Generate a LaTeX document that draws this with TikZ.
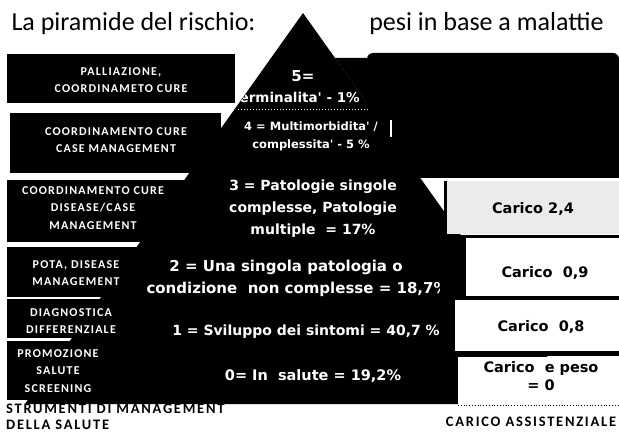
\documentclass[tikz,border=0pt]{standalone}
\usepackage{fontspec}
\setmainfont{Carlito}
\newfontfamily\pyrfont{DejaVu Sans}
\newfontfamily\boxfont[LetterSpace=10]{Carlito}
\newfontfamily\footfont[LetterSpace=12]{Carlito}
\usetikzlibrary{positioning}

\begin{document}
\begin{tikzpicture}[x=1pt,y=-1pt,
    lbl/.style={text=white,font=\boxfont\bfseries\fontsize{12}{17.5}\selectfont,align=center},
    lev/.style={text=white,font=\pyrfont\bfseries\fontsize{14}{22}\selectfont,align=center},
    levbig/.style={lev,font=\pyrfont\bfseries\fontsize{15}{22}\selectfont},
    levtop/.style={lev,font=\pyrfont\bfseries\fontsize{11.5}{18}\selectfont},
    car/.style={font=\pyrfont\bfseries\fontsize{14.5}{18}\selectfont,align=center},
    foot/.style={font=\footfont\bfseries\fontsize{14.5}{18}\selectfont}]
  \useasboundingbox (0,0) rectangle (619,433);

  % titolo
  \node[anchor=base west,font=\fontsize{26}{30}\selectfont] (tit1) at (8,31) {La piramide del rischio:};
  \node[anchor=base east,font=\fontsize{26}{30}\selectfont] (tit2) at (607,31) {pesi in base a malattie};

  % strumenti (riquadri a sinistra)
  \fill (7,54) rectangle (235,103);
  \fill (10,113) rectangle (221,173);
  \fill (7,180) rectangle (200,242);
  \fill (7,247) rectangle (160,297);
  \fill (7,299) rectangle (120,338);
  \fill (7,341) rectangle (100,400);

  % piramide
  \fill (303,13) -- (25,404) -- (581,404) -- cycle;
  \fill (367,178) [rounded corners=6pt] -- (367,53) -- (619,53) [sharp corners] -- (619,178) -- cycle;
  \fill (335,58) -- (370,58) -- (370,178) -- (420,178) -- cycle;
  \draw[white,dotted,line width=1pt] (238,110) -- (368,110);
  \draw[white,line width=2.5pt] (391,120) -- (391,137);

  % livelli
  \begin{scope}
    \clip (303,13) -- (25,404) -- (581,404) -- cycle;
    \node[lev,font=\pyrfont\bfseries\fontsize{15}{18}\selectfont] (l5) at (303,76) {5=};
    \node[lev,font=\pyrfont\bfseries\fontsize{13.5}{18}\selectfont] (l5t) at (296,97) {Terminalita' - 1\%};
  \end{scope}
  \node[levtop] (l4) at (311,136) {4 = Multimorbidita' /\\complessita' - 5 \%};
  \node[lev] (l3) at (313,209) {3 = Patologie singole\\complesse, Patologie\\multiple ~= 17\%};
  \node[levbig] (l2) at (286,267) {2 = Una singola patologia o};
  \node[levbig,anchor=west] (l2b) at (143,289) {condizione ~non complesse = 18,7\%};
  \node[lev] (l1) at (306,332) {1 = Sviluppo dei sintomi = 40,7 \%};
  \node[lev,font=\pyrfont\bfseries\fontsize{14.5}{22}\selectfont] (l0) at (313,376) {0= In ~salute = 19,2\%};

  % carico (riquadri a destra)
  \fill[black!8] (445,181) rectangle (619,234);
  \draw[line width=3pt] (445,181) -- (445,236) -- (619,236);
  \fill (440,236) rectangle (619,356);
  \fill[white] (466,238) rectangle (619,296);
  \fill[white] (455,300) rectangle (619,351);
  \fill[white] (458,357) rectangle (619,405);
  \draw[dotted,line width=0.8pt] (458,405) -- (619,405);

  \node[car] (c24) at (533,209) {Carico 2,4};
  \node[car] (c09) at (545,273) {Carico ~0,9};
  \node[car] (c08) at (541,327) {Carico ~0,8};
  \node[car] (c00) at (541,376) {Carico ~e peso\\= 0};

  % etichette strumenti
  \node[lbl] (s5) at (121,80) {PALLIAZIONE,\\COORDINAMETO CURE};
  \node[lbl] (s4) at (116,140) {COORDINAMENTO CURE\\CASE MANAGEMENT};
  \node[lbl] (s3) at (93,208) {COORDINAMENTO CURE\\DISEASE/CASE\\MANAGEMENT};
  \node[lbl] (s2) at (76,273) {POTA, DISEASE\\MANAGEMENT};
  \node[lbl] (s1) at (71,321) {DIAGNOSTICA\\DIFFERENZIALE};
  \node[lbl] (s0) at (58,371) {PROMOZIONE\\SALUTE\\SCREENING};

  % didascalie
  \node[foot,anchor=base west,inner sep=0pt] (strum) at (6,413) {STRUMENTI DI MANAGEMENT};
  \node[foot,anchor=base west,inner sep=0pt] (salute) at (6,429) {DELLA SALUTE};
  \node[foot,anchor=base,inner sep=0pt] (cass) at (531,426) {CARICO ASSISTENZIALE};
\end{tikzpicture}
\end{document}
